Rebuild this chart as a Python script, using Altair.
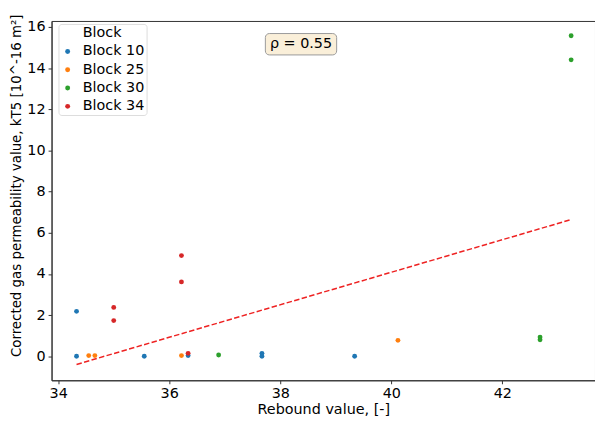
import altair as alt
import pandas as pd

# ---- data ----
categories = ["Block 10", "Block 25", "Block 30", "Block 34"]
block10_x = [34.33, 34.33, 35.55, 36.34, 37.67, 37.67, 39.34]
block10_y = [2.18, 0.00, 0.00, 0.03, 0.14, 0.00, 0.00]
block25_x = [34.55, 34.66, 36.22, 40.12]
block25_y = [0.03, 0.03, 0.03, 0.77]
block30_x = [36.89, 42.68, 42.68, 43.24, 43.24]
block30_y = [0.06, 0.93, 0.80, 15.57, 14.40]
block34_x = [35.00, 35.00, 36.22, 36.22, 36.34]
block34_y = [2.37, 1.73, 4.89, 3.61, 0.14]
fit_x = [34.33, 43.24]
fit_y = [-0.40, 6.64]
x_ticks = [34, 36, 38, 40, 42]
y_ticks = [0, 2, 4, 6, 8, 10, 12, 14, 16]
rho_label = "ρ = 0.55"
palette = ["#1f77b4", "#ff7f0e", "#2ca02c", "#d62728"]

rows = []
for cat, xs, ys in zip(categories,
                       [block10_x, block25_x, block30_x, block34_x],
                       [block10_y, block25_y, block30_y, block34_y]):
    for xv, yv in zip(xs, ys):
        rows.append({"Block": cat, "x": xv, "y": yv})
pts = pd.DataFrame(rows)
fit = pd.DataFrame({"x": fit_x, "y": fit_y})
ann = pd.DataFrame({"label": [rho_label]})

FONT = "DejaVu Sans"
FS = 14.5
W, H = 549, 363

xscale = alt.Scale(domain=[33.88, 43.67], nice=False, zero=False)
yscale = alt.Scale(domain=[-1.17, 16.29], nice=False, zero=False)

xaxis = alt.Axis(values=x_ticks, title="Rebound value, [-]", grid=False,
                 titleX=W / 2, titleY=30, titleBaseline="middle",
                 titleAlign="center", format="d")
yaxis = alt.Axis(values=y_ticks, title="Corrected gas permeability value, kT5 [10^-16 m²]",
                 grid=False, titleX=-35, titleY=166, titleAngle=-90,
                 titleFontSize=13.5,
                 titleBaseline="middle", titleAlign="center", format="d")

points = alt.Chart(pts).mark_circle(size=24, opacity=1).encode(
    x=alt.X("x:Q", scale=xscale, axis=xaxis),
    y=alt.Y("y:Q", scale=yscale, axis=yaxis),
    color=alt.Color("Block:N",
                    scale=alt.Scale(domain=categories, range=palette),
                    legend=alt.Legend(orient="none", legendX=7, legendY=3,
                                      direction="vertical", title="Block",
                                      titleAnchor="middle", titleFontWeight="normal",
                                      titleFontSize=FS, titleFont=FONT, titleColor="black",
                                      labelFontSize=FS, labelFont=FONT, labelColor="black",
                                      symbolType="circle", symbolSize=25,
                                      labelOffset=8, rowPadding=3.5, titlePadding=4,
                                      padding=2, strokeColor="#dddddd",
                                      fillColor="rgba(255,255,255,0.8)",
                                      cornerRadius=3)),
    order=alt.Order("Block:N"),
)

line = alt.Chart(fit).mark_line(color="#ee2222", strokeWidth=1.5,
                                strokeDash=[5.5, 2.4]).encode(
    x=alt.X("x:Q", scale=xscale),
    y=alt.Y("y:Q", scale=yscale),
)

box = alt.Chart(ann).mark_rect(fill="#faefd9", stroke="#9a9a9a", strokeWidth=1,
                               cornerRadius=4).encode(
    x=alt.value(216), x2=alt.value(288), y=alt.value(12.7), y2=alt.value(34.3)
)
txt = alt.Chart(ann).mark_text(font=FONT, fontSize=FS, color="black",
                               align="center", baseline="middle").encode(
    x=alt.value(252), y=alt.value(23.7), text="label:N"
)

chart = alt.layer(points, line, box, txt).properties(
    width=W, height=H,
    autosize=alt.AutoSizeParams(type="none"),
    padding={"left": 44, "top": 11, "right": 0, "bottom": 38},
).configure_axis(
    labelFont=FONT, labelFontSize=FS, labelColor="black",
    titleFont=FONT, titleFontSize=FS, titleColor="black", titleFontWeight="normal",
    domainColor="#333333", domainWidth=1, tickColor="#333333", tickSize=3.5,
    labelPadding=3,
).configure_view(stroke="#333333", strokeWidth=1)

chart.save("out.html", embed_options={"renderer": "svg", "actions": False})
